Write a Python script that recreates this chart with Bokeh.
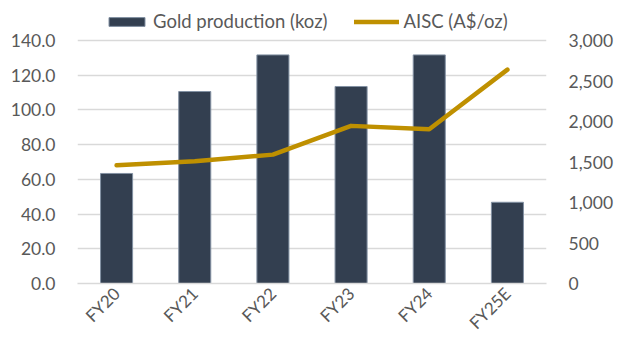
import math
from bokeh.plotting import figure
from bokeh.models import (ColumnDataSource, Range1d, LinearAxis, FixedTicker,
                          NumeralTickFormatter, Legend, LegendItem)
from bokeh.embed import file_html
from bokeh.resources import INLINE

years = ["FY20", "FY21", "FY22", "FY23", "FY24", "FY25E"]
production = [63.4, 110.6, 131.7, 113.5, 131.7, 46.8]
aisc = [1459, 1509, 1591, 1946, 1905, 2640]
left_ticks = [0, 20, 40, 60, 80, 100, 120, 140]
right_ticks = [0, 500, 1000, 1500, 2000, 2500, 3000]

FONT = "Lato"
TXT = "#595959"

# layout: frame top at y=5, frame bottom at y=283, top gridline (140) at y=40
TOP, BOTTOM, GRID_TOP = 5, 283, 40
stretch = (BOTTOM - TOP) / (BOTTOM - GRID_TOP)

src = ColumnDataSource(dict(year=years, prod=production, aisc=aisc))

p = figure(width=621, height=343, x_range=years,
           y_range=Range1d(0, left_ticks[-1] * stretch),
           output_backend="svg", toolbar_location=None,
           min_border_left=77, min_border_right=75, min_border_top=TOP,
           min_border_bottom=343 - BOTTOM, outline_line_color=None)
p.extra_y_ranges = {"aisc": Range1d(0, right_ticks[-1] * stretch)}

bars = p.vbar(x="year", top="prod", width=0.41, source=src,
              fill_color="#333F50", line_color="#8391a3", line_width=1)
line = p.line(x="year", y="aisc", source=src, y_range_name="aisc",
              line_color="#BF9000", line_width=4.5, line_cap="round",
              line_join="round")

p.xgrid.grid_line_color = None
p.ygrid.grid_line_color = "#d9d9d9"
p.ygrid.grid_line_width = 1.3
p.ygrid.ticker = FixedTicker(ticks=left_ticks)

ax = p.yaxis[0]
ax.ticker = FixedTicker(ticks=left_ticks)
ax.formatter = NumeralTickFormatter(format="0.0")

rax = LinearAxis(y_range_name="aisc", ticker=FixedTicker(ticks=right_ticks),
                 formatter=NumeralTickFormatter(format="0,0"))
p.add_layout(rax, "right")

for a in (ax, rax):
    a.axis_line_color = None
    a.major_tick_line_color = None
    a.minor_tick_line_color = None
    a.major_label_standoff = 16
    a.major_label_text_font = FONT
    a.major_label_text_font_size = "17.5px"
    a.major_label_text_color = TXT

xa = p.xaxis[0]
xa.axis_line_color = "#d9d9d9"
xa.axis_line_width = 1.3
xa.major_tick_line_color = None
xa.minor_tick_line_color = None
xa.major_label_orientation = math.pi / 4
xa.major_label_standoff = 1
xa.major_label_text_font = FONT
xa.major_label_text_font_size = "17px"
xa.major_label_text_color = TXT

legend = Legend(items=[LegendItem(label="Gold production (koz)", renderers=[bars]),
                       LegendItem(label="AISC (A$/oz)", renderers=[line])],
                orientation="horizontal", location=(27, BOTTOM - 32),
                glyph_width=45, glyph_height=11, label_standoff=4,
                spacing=27, padding=0, margin=0,
                border_line_color=None, background_fill_alpha=0,
                label_text_font=FONT, label_text_font_size="18.5px",
                label_text_color=TXT, label_height=11)
p.add_layout(legend, "center")

open("out.html", "w").write(file_html(p, INLINE))
